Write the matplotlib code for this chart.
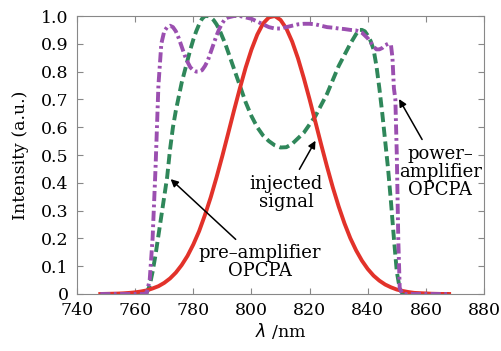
import matplotlib
matplotlib.use("Agg")
import matplotlib.pyplot as plt

# injected signal (red, solid)
sig_x = [748, 750, 752, 754, 756, 758, 760, 762, 764, 766, 768, 770, 772, 774, 776, 778,
         780, 782, 784, 786, 788, 790, 792, 794, 796, 798, 800, 802, 804, 806, 808, 810,
         812, 814, 816, 818, 820, 822, 824, 826, 828, 830, 832, 834, 836, 838, 840, 842,
         844, 846, 848, 850, 852, 854, 856, 858, 860, 862, 864, 866, 868]
sig_y = [0.0, 0.0005, 0.001, 0.0015, 0.0025, 0.004, 0.006, 0.009, 0.013, 0.02, 0.028, 0.04,
         0.056, 0.077, 0.104, 0.137, 0.178, 0.226, 0.284, 0.348, 0.42, 0.497, 0.578, 0.66,
         0.739, 0.814, 0.879, 0.933, 0.973, 0.995, 1.0, 0.986, 0.955, 0.908, 0.848, 0.777,
         0.70, 0.619, 0.537, 0.458, 0.383, 0.315, 0.254, 0.201, 0.157, 0.12, 0.09, 0.066,
         0.048, 0.034, 0.024, 0.016, 0.011, 0.007, 0.004, 0.003, 0.002, 0.001, 0.0005, 0.0, 0.0]

# pre-amplifier OPCPA (green, dashed)
pre_x = [748, 752, 756, 760, 763, 764, 765, 766, 767, 768, 769, 770, 771, 772, 773, 774,
         775, 776, 777, 778, 779, 780, 781, 782, 783, 784, 785, 786, 787, 788, 789, 790,
         791, 792, 793, 794, 795, 796, 797, 798, 799, 800, 802, 804, 806, 808, 810, 812,
         814, 816, 818, 820, 822, 824, 826, 828, 830, 832, 834, 836, 837, 838, 839, 840,
         841, 842, 843, 844, 845, 846, 847, 848, 849, 850, 851, 852, 856, 860, 864, 868]
pre_y = [0.0, 0.0, 0.0, 0.0, 0.0, 0.005, 0.03, 0.08, 0.14, 0.21, 0.28, 0.35, 0.42, 0.52,
         0.6, 0.66, 0.71, 0.76, 0.80, 0.84, 0.88, 0.915, 0.945, 0.97, 0.99, 1.0, 1.0, 0.995,
         0.985, 0.97, 0.95, 0.925, 0.90, 0.87, 0.84, 0.81, 0.78, 0.75, 0.72, 0.69, 0.665,
         0.64, 0.60, 0.57, 0.55, 0.535, 0.527, 0.528, 0.54, 0.56, 0.58, 0.61, 0.64, 0.68,
         0.72, 0.77, 0.82, 0.86, 0.90, 0.935, 0.95, 0.95, 0.945, 0.93, 0.91, 0.88, 0.82,
         0.74, 0.65, 0.55, 0.45, 0.33, 0.20, 0.08, 0.02, 0.0, 0.0, 0.0, 0.0, 0.0]

# power-amplifier OPCPA (purple, dash-dot)
pow_x = [748, 752, 756, 760, 763, 764, 765, 766, 767, 768, 769, 770, 771, 772, 773, 774,
         775, 776, 777, 778, 779, 780, 781, 782, 783, 784, 785, 786, 787, 788, 789, 790,
         791, 792, 794, 796, 798, 800, 802, 804, 806, 808, 810, 812, 814, 816, 818, 820,
         822, 824, 826, 828, 830, 832, 834, 836, 838, 840, 842, 843, 844, 845, 846, 847,
         848, 848.5, 849, 849.5, 850, 850.5, 851, 852, 856, 860, 864, 868]
pow_y = [0.0, 0.0, 0.0, 0.0, 0.0, 0.005, 0.05, 0.2, 0.45, 0.75, 0.9, 0.945, 0.96, 0.965,
         0.96, 0.945, 0.92, 0.89, 0.86, 0.835, 0.815, 0.805, 0.80, 0.80, 0.805, 0.82, 0.84,
         0.87, 0.90, 0.93, 0.955, 0.975, 0.99, 0.995, 1.0, 1.0, 0.995, 0.99, 0.98, 0.97,
         0.96, 0.955, 0.955, 0.96, 0.965, 0.97, 0.972, 0.972, 0.97, 0.965, 0.96, 0.958,
         0.955, 0.953, 0.95, 0.948, 0.94, 0.92, 0.89, 0.88, 0.88, 0.885, 0.895, 0.90,
         0.895, 0.85, 0.74, 0.70, 0.50, 0.20, 0.02, 0.0, 0.0, 0.0, 0.0, 0.0]

x_ticks = [740, 760, 780, 800, 820, 840, 860, 880]
y_ticks = [0, 0.1, 0.2, 0.3, 0.4, 0.5, 0.6, 0.7, 0.8, 0.9, 1.0]
y_ticklabels = ["0", "0.1", "0.2", "0.3", "0.4", "0.5", "0.6", "0.7", "0.8", "0.9", "1.0"]

plt.rcParams['font.family'] = ['DejaVu Serif']
plt.rcParams['font.size'] = 12

fig = plt.figure(figsize=(5.02, 3.51), dpi=100)
ax = fig.add_axes([0.1534, 0.1624, 0.8108, 0.792])

ax.plot(pre_x, pre_y, color='#2f875a', lw=2.8, linestyle=(0, (2.6, 1.2)))
ax.plot(sig_x, sig_y, color='#e2322a', lw=2.8)
ax.plot(pow_x, pow_y, color='#9b4fb0', lw=2.8, linestyle=(0, (2.6, 0.9, 0.7, 0.9)))

ax.set_xlim(740, 880)
ax.set_ylim(0, 1.0)
ax.set_xticks(x_ticks)
ax.set_yticks(y_ticks)
ax.set_yticklabels(y_ticklabels)
ax.tick_params(direction='in', top=True, right=True, length=4, color='#888888', pad=6,
               labelsize=12.5)
for sp in ax.spines.values():
    sp.set_color('#888888')
    sp.set_linewidth(0.8)

ax.set_xlabel(r'$\lambda$ /nm', labelpad=1, fontsize=12.5)
ax.set_ylabel('Intensity (a.u.)', labelpad=9, fontsize=12.5)

arrow = dict(arrowstyle='-|>', color='black', lw=1.1, mutation_scale=11)
ax.annotate('injected\nsignal', xy=(822.5, 0.56), xytext=(812, 0.365), fontsize=13,
            ha='center', va='center', linespacing=1.0, arrowprops=arrow)
ax.annotate('pre–amplifier\nOPCPA', xy=(771.5, 0.42), xytext=(803, 0.115), fontsize=13,
            ha='center', va='center', linespacing=1.0, arrowprops=arrow)
ax.annotate('power–\namplifier\nOPCPA', xy=(850.3, 0.71), xytext=(865, 0.44), fontsize=13,
            ha='center', va='center', linespacing=1.0, arrowprops=arrow)

plt.savefig('out.png', dpi=100)
